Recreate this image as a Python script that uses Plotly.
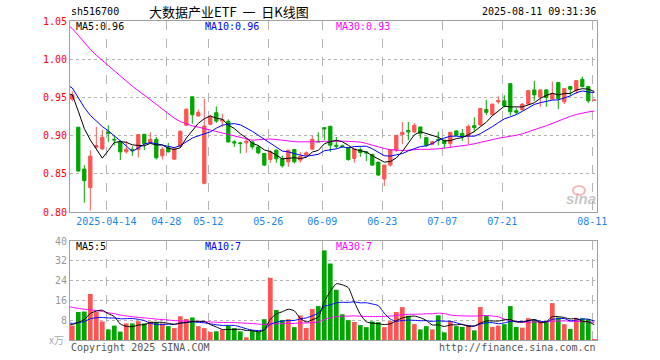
import numpy as np
import plotly.graph_objects as go

# ---------------- data ----------------
dates = ["2025-04-03", "2025-04-07", "2025-04-08", "2025-04-09", "2025-04-10", "2025-04-11",
         "2025-04-14", "2025-04-15", "2025-04-16", "2025-04-17", "2025-04-18",
         "2025-04-21", "2025-04-22", "2025-04-23", "2025-04-24", "2025-04-25",
         "2025-04-28", "2025-04-29", "2025-04-30",
         "2025-05-06", "2025-05-07", "2025-05-08", "2025-05-09",
         "2025-05-12", "2025-05-13", "2025-05-14", "2025-05-15", "2025-05-16",
         "2025-05-19", "2025-05-20", "2025-05-21", "2025-05-22", "2025-05-23",
         "2025-05-26", "2025-05-27", "2025-05-28", "2025-05-29", "2025-05-30",
         "2025-06-03", "2025-06-04", "2025-06-05", "2025-06-06",
         "2025-06-09", "2025-06-10", "2025-06-11", "2025-06-12", "2025-06-13",
         "2025-06-16", "2025-06-17", "2025-06-18", "2025-06-19", "2025-06-20",
         "2025-06-23", "2025-06-24", "2025-06-25", "2025-06-26", "2025-06-27",
         "2025-06-30", "2025-07-01", "2025-07-02", "2025-07-03", "2025-07-04",
         "2025-07-07", "2025-07-08", "2025-07-09", "2025-07-10", "2025-07-11",
         "2025-07-14", "2025-07-15", "2025-07-16", "2025-07-17", "2025-07-18",
         "2025-07-21", "2025-07-22", "2025-07-23", "2025-07-24", "2025-07-25",
         "2025-07-28", "2025-07-29", "2025-07-30", "2025-07-31", "2025-08-01",
         "2025-08-04", "2025-08-05", "2025-08-06", "2025-08-07", "2025-08-08",
         "2025-08-11"]

open_ = [0.9477, 0.9110, 0.8562, 0.8319, 0.8848, 0.8826, 0.9048, 0.8952, 0.8918, 0.8787, 0.8820,
         0.8818, 0.9017, 0.8913, 0.8952, 0.8735, 0.8844, 0.8692, 0.8861, 0.9135, 0.9508, 0.9256,
         0.8375, 0.9148, 0.9300, 0.9190, 0.9187, 0.8918, 0.8905, 0.8905, 0.8918, 0.8852, 0.8766,
         0.8687, 0.8809, 0.8696, 0.8657, 0.8818, 0.8679, 0.8744, 0.8822, 0.8926, 0.9104, 0.9122,
         0.8874, 0.8866, 0.8844, 0.8701, 0.8818, 0.8787, 0.8752, 0.8653, 0.8432, 0.8614, 0.8805,
         0.9013, 0.9069, 0.9048, 0.9113, 0.8974, 0.8887, 0.8952, 0.8939, 0.8896, 0.9061, 0.9029,
         0.8990, 0.9130, 0.9139, 0.9343, 0.9273, 0.9442, 0.9455, 0.9680, 0.9325, 0.9338, 0.9412,
         0.9598, 0.9507, 0.9598, 0.9477, 0.9694, 0.9442, 0.9642, 0.9586, 0.9737, 0.9642, 0.9460]
high = [0.9580, 0.9110, 0.8614, 0.8809, 0.9113, 0.9078, 0.9135, 0.9004, 0.8940, 0.8926, 0.8860,
        0.9013, 0.9017, 0.9043, 0.8983, 0.8852, 0.8905, 0.8852, 0.9069, 0.9360, 0.9508, 0.9339,
        0.9482, 0.9273, 0.9382, 0.9286, 0.9213, 0.8940, 0.8918, 0.8961, 0.8918, 0.8874, 0.8774,
        0.8809, 0.8818, 0.8739, 0.8809, 0.8818, 0.8783, 0.8792, 0.9000, 0.9043, 0.9104, 0.9122,
        0.8983, 0.8880, 0.8848, 0.8826, 0.8844, 0.8787, 0.8766, 0.8653, 0.8614, 0.8818, 0.9004,
        0.9178, 0.9178, 0.9165, 0.9113, 0.8974, 0.8931, 0.9052, 0.8939, 0.9043, 0.9069, 0.9087,
        0.9147, 0.9239, 0.9356, 0.9469, 0.9412, 0.9512, 0.9529, 0.9680, 0.9360, 0.9425, 0.9589,
        0.9716, 0.9598, 0.9607, 0.9707, 0.9694, 0.9616, 0.9642, 0.9720, 0.9772, 0.9642, 0.9481]
low = [0.9450, 0.8527, 0.8123, 0.8019, 0.8830, 0.8810, 0.8918, 0.8874, 0.8680, 0.8766, 0.8735,
       0.8714, 0.8810, 0.8896, 0.8687, 0.8687, 0.8779, 0.8679, 0.8852, 0.9122, 0.9156, 0.9252,
       0.8362, 0.9135, 0.9165, 0.9113, 0.8905, 0.8852, 0.8766, 0.8774, 0.8818, 0.8757, 0.8601,
       0.8644, 0.8644, 0.8583, 0.8592, 0.8635, 0.8644, 0.8731, 0.8810, 0.8918, 0.8939, 0.8787,
       0.8831, 0.8840, 0.8670, 0.8644, 0.8722, 0.8666, 0.8605, 0.8471, 0.8340, 0.8592, 0.8783,
       0.8887, 0.8939, 0.9035, 0.8961, 0.8852, 0.8874, 0.8874, 0.8831, 0.8840, 0.8991, 0.8930,
       0.8890, 0.9043, 0.9121, 0.9269, 0.9260, 0.9416, 0.9369, 0.9260, 0.9269, 0.9325, 0.9403,
       0.9455, 0.9377, 0.9377, 0.9477, 0.9347, 0.9412, 0.9520, 0.9542, 0.9629, 0.9425, 0.9455]
close = [0.9534, 0.8536, 0.8410, 0.8731, 0.8870, 0.8978, 0.9030, 0.8944, 0.8787, 0.8822, 0.8809,
         0.9013, 0.8896, 0.8952, 0.8709, 0.8822, 0.8787, 0.8826, 0.9056, 0.9343, 0.9273, 0.9304,
         0.9126, 0.9243, 0.9190, 0.9210, 0.8918, 0.8905, 0.8896, 0.8926, 0.8852, 0.8774, 0.8614,
         0.8787, 0.8696, 0.8605, 0.8809, 0.8657, 0.8731, 0.8774, 0.8952, 0.8918, 0.9087, 0.8874,
         0.8861, 0.8857, 0.8687, 0.8826, 0.8779, 0.8774, 0.8614, 0.8484, 0.8614, 0.8818, 0.9004,
         0.9043, 0.9048, 0.9135, 0.9026, 0.8874, 0.8918, 0.8939, 0.8896, 0.9043, 0.9004, 0.8990,
         0.9121, 0.9104, 0.9356, 0.9304, 0.9412, 0.9460, 0.9390, 0.9312, 0.9304, 0.9412, 0.9589,
         0.9533, 0.9598, 0.9499, 0.9551, 0.9486, 0.9616, 0.9607, 0.9720, 0.9642, 0.9455, 0.9464]
volume = [5.8, 11.3, 11.5, 18.6, 11.3, 7.5, 4.3, 5.8, 3.4, 6.7, 6.7,
          7.6, 6.7, 7.5, 7.2, 6.7, 5.6, 4.8, 9.6, 8.5, 9.1, 5.6,
          4.8, 3.3, 3.5, 4.1, 5.7, 4.8, 3.5, 1.1, 3.7, 3.4, 8.4,
          25.1, 12.1, 8.1, 8.4, 5.2, 9.9, 4.9, 12.5, 13.7, 36.2, 30.9,
          20.3, 10.4, 8.0, 7.3, 6.0, 5.2, 7.5, 7.2, 5.2, 7.6, 11.3,
          13.3, 9.8, 6.4, 4.3, 5.6, 4.3, 10.0, 3.1, 7.6, 5.6, 5.3,
          6.1, 3.9, 13.3, 9.9, 5.3, 5.8, 6.4, 13.7, 5.3, 5.0, 8.8,
          8.3, 7.5, 7.5, 14.9, 9.1, 6.4, 4.5, 8.8, 8.8, 8.4, 0.4]

# estimated history before the visible window (needed for the moving averages)
prior_close = [1.130, 1.120, 1.135, 1.130, 1.120, 1.105, 1.095, 1.095, 1.090, 1.085,
               1.080, 1.075, 1.070, 1.065, 1.060, 1.056, 1.070, 1.060, 1.040, 1.030,
               1.000, 0.980, 0.970, 0.975, 0.965, 0.966, 0.960, 0.955, 0.948, 0.950]
prior_volume = [23, 24, 22, 26, 20, 18, 21, 17, 19, 18, 16, 15, 14, 13, 16, 12, 11, 13, 12, 11,
                11, 8, 7.5, 7, 7, 6.5, 6.5, 6, 6.5, 6.2]

tick_dates = ["2025-04-14", "2025-04-28", "2025-05-12", "2025-05-26", "2025-06-09",
              "2025-06-23", "2025-07-07", "2025-07-21", "2025-08-11"]
tick_text = ["2025-04-14", "04-28", "05-12", "05-26", "06-09", "06-23", "07-07", "07-21", "08-11"]
price_ticks = [0.80, 0.85, 0.90, 0.95, 1.00, 1.05]
vol_ticks = [8, 16, 24, 32, 40]

# ---------------- derived ----------------
n = len(close)
npre = len(prior_close)
x = np.arange(n)
x_ext = np.arange(-1, n)


def moving(series_all, w):
    arr = np.array(series_all, dtype=float)
    out = []
    for k in range(npre - 1, len(arr)):
        out.append(arr[k - w + 1:k + 1].mean())
    return np.array(out)


c_all = prior_close + close
v_all = prior_volume + volume
ma_p = {w: moving(c_all, w) for w in (5, 10, 30)}
ma_v = {w: moving(v_all, w) for w in (5, 10, 30)}

RED = "#ff5454"
GREEN = "#00a600"
vol_colors = [RED if c > o else GREEN for o, c in zip(open_, close)]
tickvals = [dates.index(d) - 0.33 for d in tick_dates]

MONO = "DejaVu Sans Mono"

# ---------------- figure ----------------
fig = go.Figure()
fig.add_trace(go.Candlestick(
    x=x, open=open_, high=high, low=low, close=close,
    increasing=dict(line=dict(color=RED, width=1), fillcolor=RED),
    decreasing=dict(line=dict(color=GREEN, width=1), fillcolor=GREEN),
    whiskerwidth=0, xaxis="x", yaxis="y", hoverinfo="skip"))

ma_cols = {5: "#000000", 10: "#0000ff", 30: "#ff00ff"}
for w in (30, 10, 5):
    fig.add_trace(go.Scatter(x=x_ext, y=ma_p[w], mode="lines",
                             line=dict(color=ma_cols[w], width=1),
                             xaxis="x", yaxis="y", hoverinfo="skip"))

fig.add_trace(go.Bar(x=x, y=volume, marker=dict(color=vol_colors, line=dict(width=0)),
                     xaxis="x2", yaxis="y2", hoverinfo="skip"))
for w in (30, 10, 5):
    fig.add_trace(go.Scatter(x=x_ext, y=ma_v[w], mode="lines",
                             line=dict(color=ma_cols[w], width=1, shape="spline", smoothing=0.6),
                             xaxis="x2", yaxis="y2", hoverinfo="skip"))

W, H = 660, 360
L, R, T, B = 70, 597, 21, 340


def px(v):
    return (v - L) / (R - L)


def py(v):
    return (B - v) / (B - T)


xr = [(L - 72.3) / 6.0, (R - 72.3) / 6.0]
grid = "#b4b4b4"
frame = "#a0a0a0"

common_x = dict(range=xr, tickmode="array", tickvals=tickvals, showgrid=True,
                gridcolor=grid, griddash="dash", gridwidth=1, zeroline=False,
                showline=True, linecolor=frame, linewidth=1, mirror=True, ticks="",
                fixedrange=True, automargin=False)

fig.update_layout(
    width=W, height=H,
    margin=dict(l=L, r=W - R, t=T, b=H - B, pad=0, autoexpand=False),
    paper_bgcolor="white", plot_bgcolor="white",
    showlegend=False, bargap=0.22, boxgap=0.22,
    xaxis=dict(domain=[0, 1], anchor="y", ticktext=tick_text,
               tickfont=dict(family=MONO, size=10, color="#1a86e8"),
               rangeslider=dict(visible=False), **common_x),
    xaxis2=dict(domain=[0, 1], anchor="y2", showticklabels=False, **common_x),
    yaxis=dict(domain=[py(212), 1], range=[0.80, 1.05], tickmode="array",
               tickvals=price_ticks, ticktext=["%.2f" % v for v in price_ticks],
               tickfont=dict(family=MONO, size=10, color="#ff0000"),
               showgrid=True, gridcolor=grid, griddash="dot", zeroline=False,
               showline=True, linecolor=frame, mirror=True, ticks="", fixedrange=True,
               automargin=False),
    yaxis2=dict(domain=[0, py(241)], range=[0, 40], tickmode="array",
                tickvals=vol_ticks, ticktext=[str(v) for v in vol_ticks],
                tickfont=dict(family=MONO, size=10, color="#999999"),
                showgrid=True, gridcolor=grid, griddash="dot", zeroline=False,
                showline=True, linecolor=frame, mirror=True, ticks="", fixedrange=True,
                automargin=False),
)

ann = []


def text(xp, yp, s, color="#000", size=10, anchor="left", family=MONO, **kw):
    ann.append(dict(x=px(xp), y=py(yp), xref="paper", yref="paper", text=s,
                    showarrow=False, xanchor=anchor, yanchor="middle",
                    font=dict(family=family, size=size, color=color), **kw))


NB = "\u00a0"
text(69, 12, "sh516700", "#000", 10)
text(229, 11.5, "大数据产业ETF" + NB * 2 + "一" + NB * 2 + "日K线图", "#000", 13, "center",
     "Noto Sans CJK SC")
text(598, 12, "2025-08-11 09:31:36", "#000", 10, "right")
text(74, 27, "MA5:0.96", "#000", 10)
text(203, 27, "MA10:0.96", "#0000ff", 10)
text(334, 27, "MA30:0.93", "#ff00ff", 10)
text(74, 246, "MA5:5", "#000", 10)
text(203, 246, "MA10:7", "#0000ff", 10)
text(334, 246, "MA30:7", "#ff00ff", 10)
text(66, 339, "x万", "#aaaaaa", 10, "right", "Noto Sans CJK SC")
text(69, 347, "Copyright 2025 SINA.COM", "#555555", 10)
text(598, 347, "http://finance.sina.com.cn", "#555555", 10, "right")
text(581, 198, "<b><i>sina</i></b>", "rgba(150,150,150,0.55)", 15, "center", "Liberation Sans")
fig.update_layout(annotations=ann)

fig.add_shape(type="circle", xref="paper", yref="paper",
              x0=px(573), x1=px(585), y0=py(195), y1=py(186),
              line=dict(color="rgba(235,120,120,0.5)", width=2))

fig.write_html("out.html", config={"displayModeBar": False, "staticPlot": True},
               post_script="document.body.style.margin='0';document.body.style.padding='0';")
